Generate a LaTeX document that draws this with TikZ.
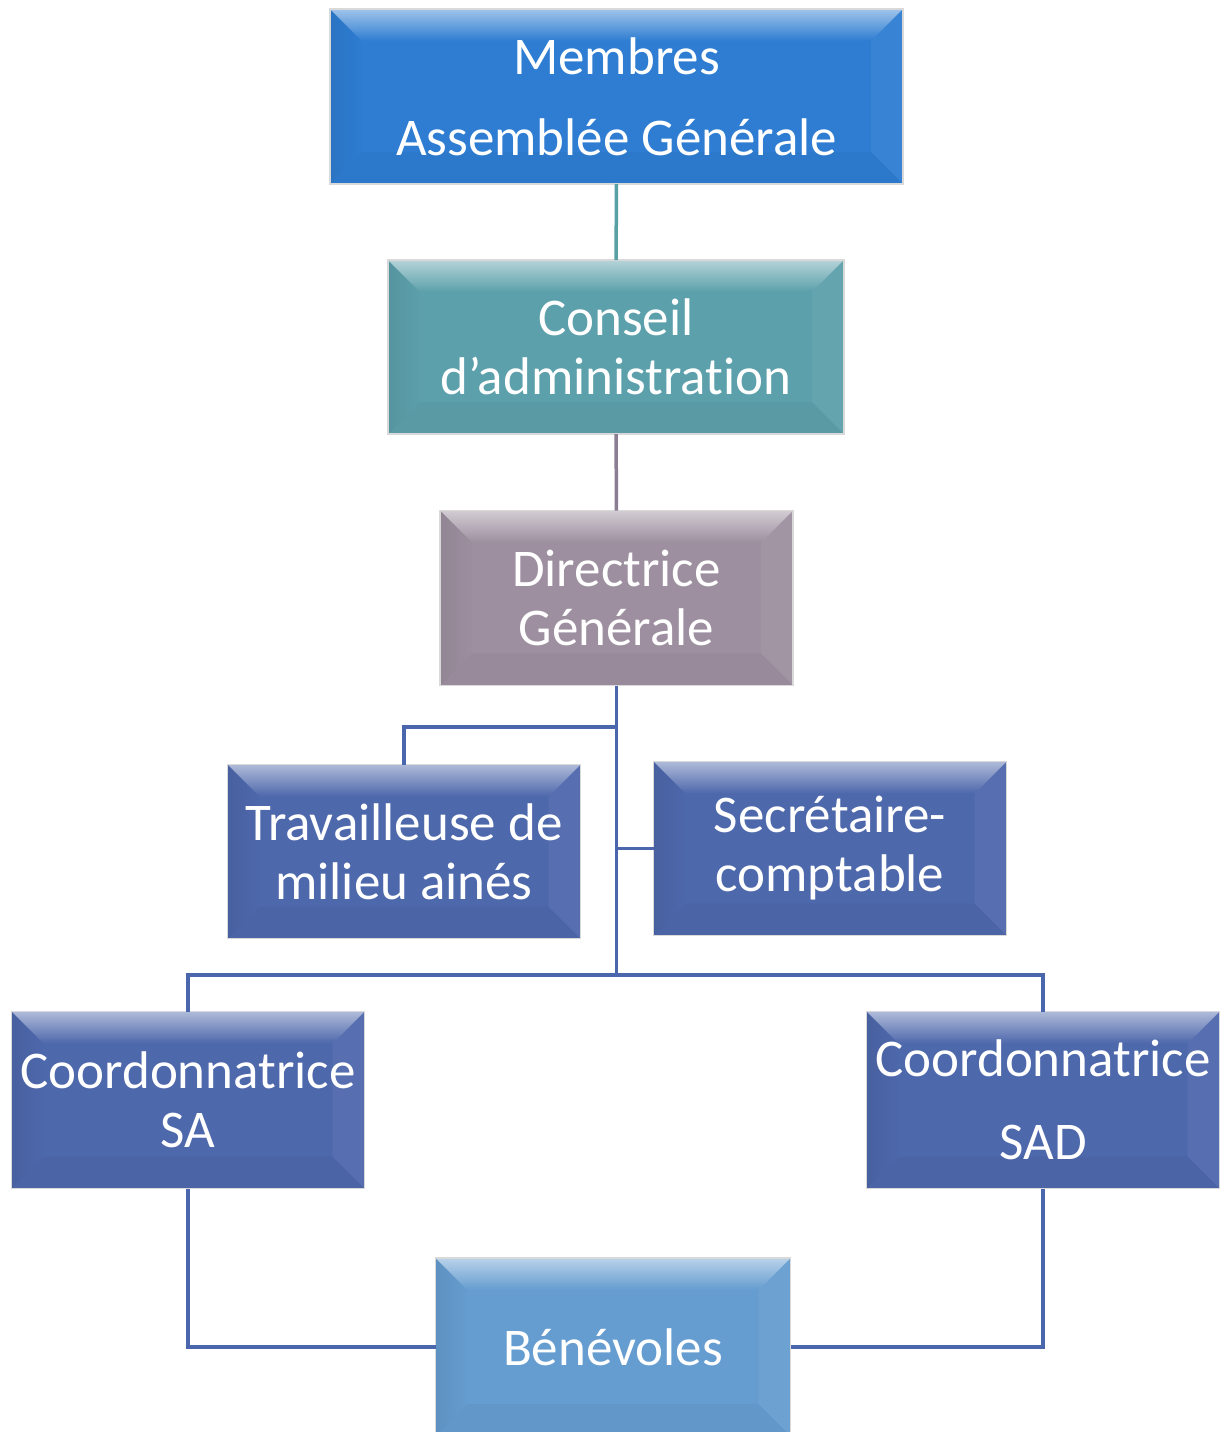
\documentclass[tikz,border=0pt]{standalone}
\usepackage{fontspec}
\setmainfont{Carlito}[Ligatures=NoCommon]
\usepackage{tkz-graph}
\usetikzlibrary{fadings}
\definecolor{bleuAG}{RGB}{46,125,210}
\definecolor{sarcelle}{RGB}{92,160,171}
\definecolor{mauve}{RGB}{157,143,159}
\definecolor{bleuPoste}{RGB}{78,104,172}
\definecolor{bleuBen}{RGB}{101,157,208}
\definecolor{lienSarcelle}{RGB}{88,160,166}
\definecolor{lienMauve}{RGB}{140,126,146}
\definecolor{lienBleu}{RGB}{74,102,172}
\tikzset{bevel/.style={path picture={
  \coordinate (bnw) at (path picture bounding box.north west);
  \coordinate (bne) at (path picture bounding box.north east);
  \coordinate (bsw) at (path picture bounding box.south west);
  \coordinate (bse) at (path picture bounding box.south east);
  \fill[white,opacity=.55,path fading=south] (bnw) -- (bne) -- ([shift={(-32pt,-32pt)}]bne) -- ([shift={(32pt,-32pt)}]bnw) -- cycle;
  \fill[black,opacity=.07,path fading=east] (bnw) -- ([shift={(32pt,-32pt)}]bnw) -- ([shift={(32pt,32pt)}]bsw) -- (bsw) -- cycle;
  \fill[white,opacity=.05] (bne) -- ([shift={(-32pt,-32pt)}]bne) -- ([shift={(-32pt,32pt)}]bse) -- (bse) -- cycle;
  \fill[black,opacity=.03] (bsw) -- ([shift={(32pt,32pt)}]bsw) -- ([shift={(-32pt,32pt)}]bse) -- (bse) -- cycle;
}}}

\begin{document}
\begin{tikzpicture}[x=1pt,y=-1pt]
\useasboundingbox (0,0) rectangle (1223,1432);
\GraphInit[vstyle=Normal]
\tikzset{VertexStyle/.style={shape=rectangle, draw=black!15, line width=1.5pt, inner sep=0pt, outer sep=0pt, text=white, align=center, font=\fontsize{53}{59}\selectfont, bevel}}
\tikzset{VertexStyle/.append style={fill=bleuAG, minimum width=573pt, minimum height=175pt}}
\Vertex[x=616.5,y=96.5,L={Membres\\[22pt]Assemblée Générale}]{AG}
\tikzset{VertexStyle/.append style={fill=sarcelle, minimum width=456pt, minimum height=174pt}}
\Vertex[x=616,y=347,L={Conseil\\d’administration}]{CA}
\tikzset{lien/.style={line width=3.5pt, color=lienSarcelle}}
\draw[lien] (AG) -- (CA);
\tikzset{VertexStyle/.append style={fill=mauve, minimum width=353pt, minimum height=175pt}}
\Vertex[x=616.5,y=598,L={Directrice\\Générale}]{DG}
\tikzset{lien/.style={line width=3.5pt, color=lienMauve}}
\draw[lien] (CA) -- (DG);
\tikzset{VertexStyle/.append style={fill=bleuPoste, minimum width=353pt, minimum height=174pt}}
\Vertex[x=404,y=851.5,L={Travailleuse de\\milieu ainés}]{TMA}
\Vertex[x=830,y=848.5,L={Secrétaire-\\comptable}]{SEC}
\tikzset{VertexStyle/.append style={fill=bleuPoste, minimum width=353pt, minimum height=177pt}}
\Vertex[x=188,y=1100,L={Coordonnatrice\\SA}]{CSA}
\Vertex[x=1043,y=1100,L={Coordonnatrice\\[24pt]SAD}]{CSAD}
\tikzset{VertexStyle/.append style={fill=bleuBen, minimum width=355pt, minimum height=178pt}}
\Vertex[x=613,y=1347,L={Bénévoles}]{BEN}
\tikzset{lien/.style={line width=3.5pt, color=lienBleu}}
\coordinate (barre) at (616.5,975);
\coordinate (coude) at (616.5,727);
\draw[lien] (DG.south) -- (barre);
\draw[lien] (coude) -| (TMA.north);
\draw[lien] (DG.south) |- (SEC.west);
\draw[lien] (CSA.north) |- (barre) -| (CSAD.north);
\draw[lien] (CSA.south) |- (BEN.west);
\draw[lien] (CSAD.south) |- (BEN.east);
\end{tikzpicture}
\end{document}
